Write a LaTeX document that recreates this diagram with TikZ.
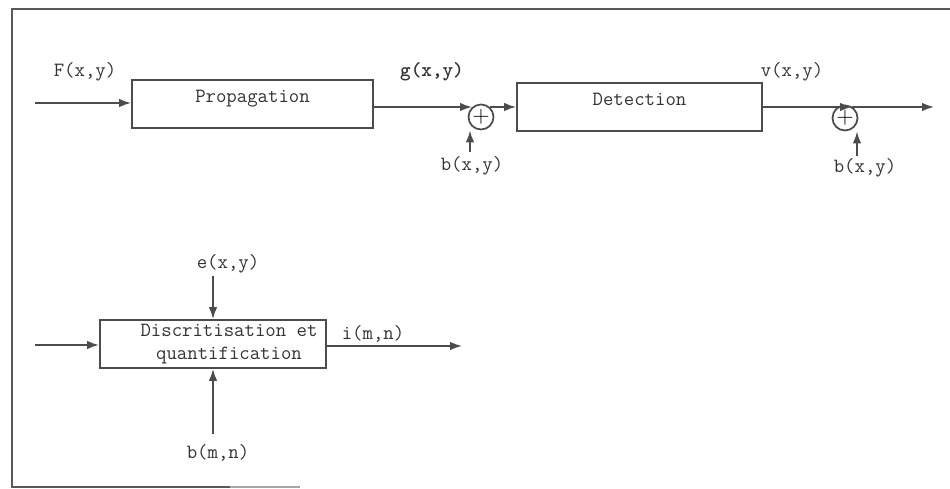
\documentclass[tikz,border=0pt]{standalone}
\usetikzlibrary{positioning, arrows.meta}

\tikzset{
    bloc/.style={draw=black!70, line width=1pt, rectangle, inner sep=0pt},
    somme/.style={draw=black!70, line width=1pt, circle, minimum size=5mm, inner sep=0pt, font=\fontsize{13}{13}\selectfont},
    signal/.style={text=black!80, font=\ttfamily\fontsize{11.5}{13.5}\selectfont, inner sep=1pt},
    fleche/.style={draw=black!70, line width=1pt, -{Latex[length=2.4mm, width=1.7mm]}}
}

\begin{document}
\begin{tikzpicture}[x=0.2mm, y=-0.2mm]
    \useasboundingbox (0,0) rectangle (950,489);

    % cadre
    \draw[black!65, line width=1.6pt] (950,9) -- (12,9) -- (12,487) -- (230,487);
    \draw[black!35, line width=1pt] (230,487) -- (300,487);

    % chaine du haut
    \node[bloc, minimum width=48.2mm, minimum height=9.6mm,
        label={[signal, anchor=north, yshift=-5pt]north:Propagation}] (prop) at (252.5,104) {};
    \node[bloc, minimum width=49mm, minimum height=9.6mm,
        label={[signal, anchor=north, yshift=-5pt]north:Detection}] (detec) at (639.5,107) {};
    \node[somme] (som1) at (481,117) {+};
    \node[somme] (som2) at (845,118) {+};

    \coordinate (entree1) at (35,103);
    \coordinate (plus1) at (472,107);
    \coordinate (bruit1) at (470,152);
    \coordinate (bruit2) at (857,156);
    \coordinate (v-fin) at (852,107);
    \coordinate (sortie1) at (934,107);

    \node[signal] (f) at (85,72) {F(x,y)};
    \node[signal, font=\ttfamily\bfseries\fontsize{11.5}{13.5}\selectfont] (g) at (432,72) {g(x,y)};
    \node[signal] (v) at (792,72) {v(x,y)};
    \node[signal] (b1) at (472,166) {b(x,y)};
    \node[signal] (b2) at (865,168) {b(x,y)};

    \draw[fleche] (entree1) -- (prop.west |- entree1);
    \draw[fleche] (prop.east |- plus1) -- (plus1);
    \draw[fleche] (som1.north east |- plus1) -- (detec.west |- plus1);
    \draw[fleche] (bruit1) -- (bruit1 |- som1.south);
    \draw[fleche] (detec.east) -- (v-fin);
    \draw[fleche] (v-fin) -- (sortie1);
    \draw[fleche] (bruit2) -- (bruit2 |- som2.south);

    % chaine du bas
    \node[bloc, minimum width=45.2mm, minimum height=9.6mm,
        label={[signal, align=center, xshift=3.2mm]center:Discritisation et\\quantification}] (discret) at (213,344) {};

    \coordinate (entree2) at (35,345);
    \coordinate (sortie2) at (462,346);
    \coordinate (bruit3) at (213,276);
    \coordinate (bruit4) at (213,434);

    \node[signal] (e) at (228,264) {e(x,y)};
    \node[signal] (i) at (373,334) {i(m,n)};
    \node[signal] (b3) at (218,453) {b(m,n)};

    \draw[fleche] (entree2) -- (discret.west |- entree2);
    \draw[fleche] (discret.east |- sortie2) -- (sortie2);
    \draw[fleche] (bruit3) -- (discret.north);
    \draw[fleche] (bruit4) -- (discret.south);
\end{tikzpicture}
\end{document}
